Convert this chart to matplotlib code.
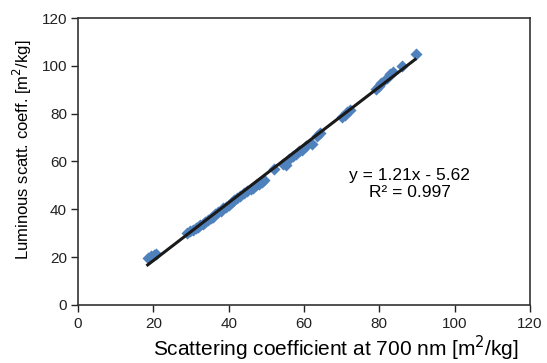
import numpy as np
import matplotlib.pyplot as plt

plt.rcParams['font.family'] = ['Liberation Sans', 'DejaVu Sans']

# scattering coefficient at 700 nm vs luminous scattering coefficient
scatt700 = [18.5, 19.3, 20.2, 20.8,
            29.0, 29.8, 30.5, 31.2, 31.8, 32.5, 33.2, 33.8, 34.5, 35.2, 35.8,
            36.5, 37.2, 37.9, 38.6, 39.3, 40.0, 40.8, 41.5, 42.3, 43.0,
            44.2, 45.0, 45.8, 46.5, 47.3, 48.0, 48.8, 49.5,
            52.0, 54.5, 55.3, 56.0, 57.0, 57.8, 58.6, 59.5, 60.5, 62.0, 63.5, 64.2,
            70.0, 70.8, 71.5, 72.3,
            79.0, 79.8, 80.5, 82.0, 82.8, 83.6, 86.0, 89.7]
lum_scatt = [19.5, 20.3, 21.0, 21.3,
             30.2, 30.8, 31.5, 32.3, 32.8, 33.5, 34.0, 34.8, 35.6, 36.3, 37.0,
             38.0, 38.8, 39.5, 40.5, 41.0, 42.0, 43.0, 44.0, 44.8, 45.5,
             47.0, 47.8, 48.3, 49.0, 50.0, 50.5, 51.5, 52.3,
             57.0, 59.0, 58.5, 61.0, 62.5, 63.2, 64.5, 65.0, 66.5, 67.5, 70.5, 72.0,
             78.5, 79.5, 80.5, 81.5,
             90.5, 91.5, 93.0, 95.0, 96.5, 97.3, 100.0, 104.8]

slope, intercept = 1.21, -5.62
fit_x = [18.5, 89.5]

fig = plt.figure(figsize=(5.47, 3.63), dpi=100)
ax = fig.add_axes([0.1426, 0.1598, 0.9689 - 0.1426, 0.9504 - 0.1598])

ax.scatter(scatt700, lum_scatt, marker='D', s=38, color='#4F81BD', linewidths=0, zorder=2)
fx = np.array(fit_x)
ax.plot(fx, slope * fx + intercept, color='#1a1a1a', lw=2.2, zorder=3)

ax.set_xlim(0, 120)
ax.set_ylim(0, 120)
ax.set_xticks(range(0, 121, 20))
ax.set_yticks(range(0, 121, 20))
ax.tick_params(direction='out', length=5, width=1, labelsize=11, colors='#222222')
ax.tick_params(axis='y', pad=3)
for sp in ax.spines.values():
    sp.set_linewidth(1.2)
    sp.set_color('#333333')

ax.set_xlabel('Scattering coefficient at 700 nm [m$^2$/kg]', fontsize=15, va='center')
ax.xaxis.set_label_coords(0.571, -0.15)
ax.set_ylabel('Luminous scatt. coeff. [m$^2$/kg]', fontsize=12, va='center')
ax.yaxis.set_label_coords(-0.122, 0.54)

ax.text(88.0, 54.3, 'y = 1.21x - 5.62', ha='center', va='center', fontsize=12.5)
ax.text(88.0, 47.2, 'R² = 0.997', ha='center', va='center', fontsize=12.5)

fig.savefig('out.png', dpi=100)
